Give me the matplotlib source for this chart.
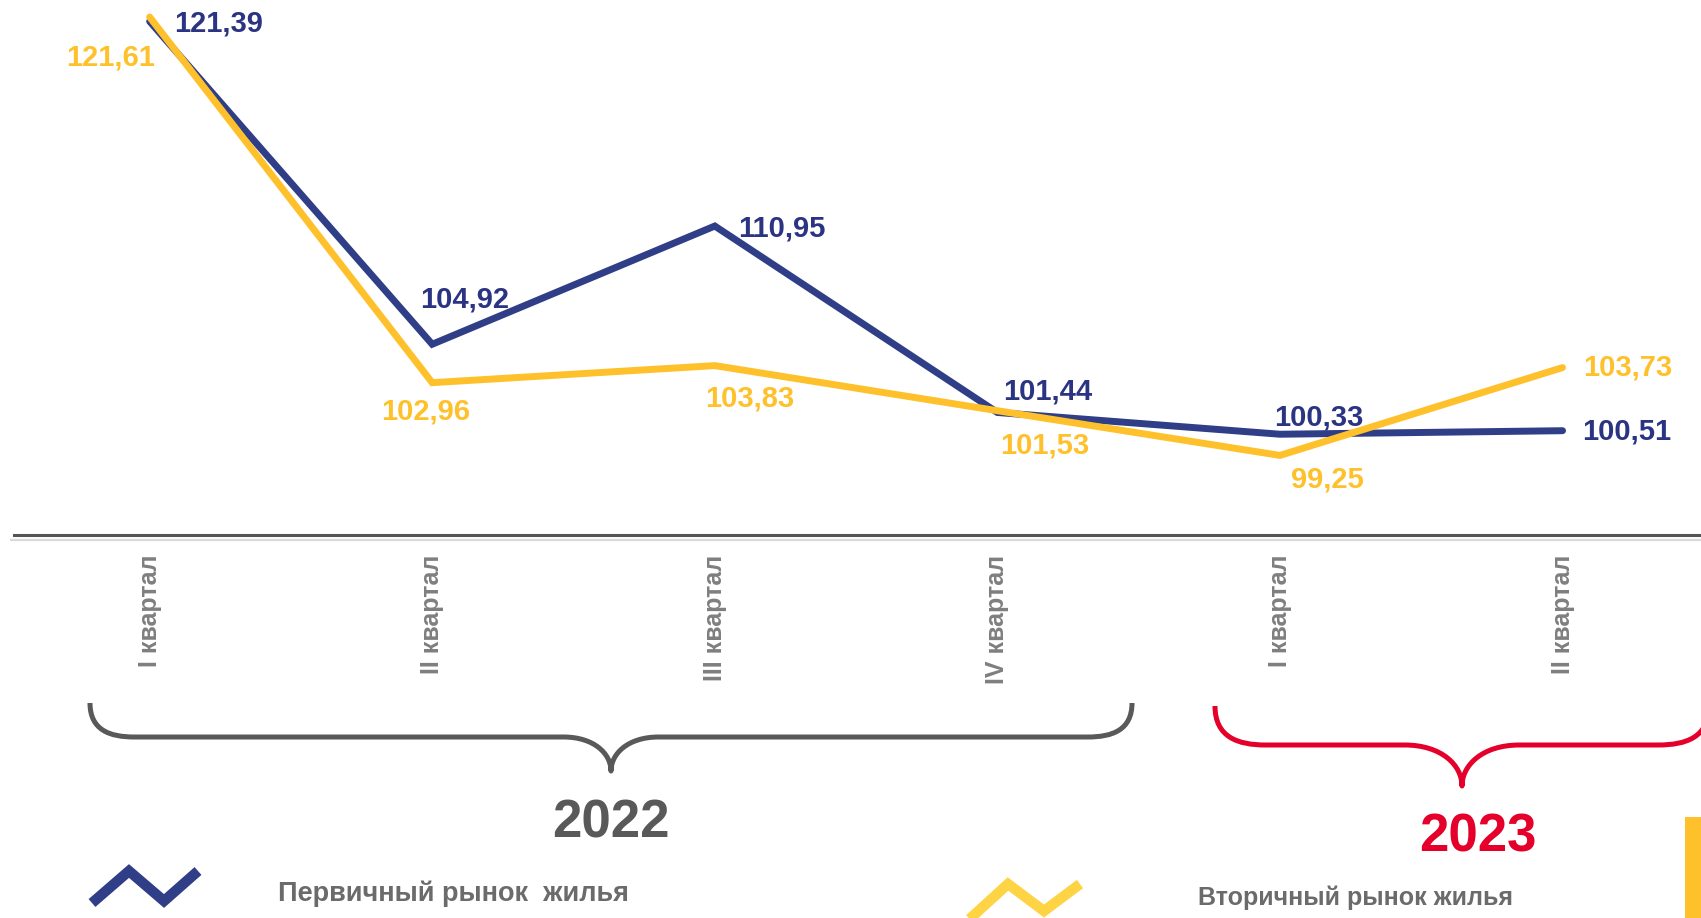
import matplotlib
matplotlib.use("Agg")
import matplotlib.pyplot as plt
from matplotlib.path import Path
from matplotlib.patches import PathPatch, Rectangle

plt.rcParams['font.family'] = ['Liberation Sans', 'DejaVu Sans']

# ---- data ----
quarters = ["I квартал", "II квартал", "III квартал", "IV квартал", "I квартал", "II квартал"]
primary = [121.39, 104.92, 110.95, 101.44, 100.33, 100.51]
secondary = [121.61, 102.96, 103.83, 101.53, 99.25, 103.73]
primary_labels = ["121,39", "104,92", "110,95", "101,44", "100,33", "100,51"]
secondary_labels = ["121,61", "102,96", "103,83", "101,53", "99,25", "103,73"]
years = ["2022", "2023"]
legend_names = ["Первичный рынок  жилья", "Вторичный рынок жилья"]

NAVY = "#2F3E86"
NAVY_TXT = "#2B3483"
YELLOW = "#FFC12B"
YELLOW_ICON = "#FFD444"
GRAY = "#595959"
RED = "#E4002B"

W, H = 1701, 918
fig = plt.figure(figsize=(W / 100, H / 100), dpi=100)

# main chart axes (pixel layout)
ax_left, ax_top, ax_bottom = 14, 0, 535
ax = fig.add_axes([ax_left / W, 1 - ax_bottom / H, (W - ax_left) / W, (ax_bottom - ax_top) / H])
ax.set_xlim(-0.48, 5.49)
ax.set_ylim(95.19, 122.48)
for s in ["top", "right", "left"]:
    ax.spines[s].set_visible(False)
ax.spines["bottom"].set_color("#555555")
ax.spines["bottom"].set_linewidth(2.2)
ax.set_yticks([])
x = list(range(len(quarters)))
ax.set_xticks(x)
ax.set_xticklabels(quarters, rotation=90, fontsize=18, fontweight="bold", color="#7F7F7F")
ax.tick_params(axis="x", length=0, pad=14)
ax.patch.set_alpha(0)

ax.plot(x, primary, color=NAVY, lw=5, solid_capstyle="round", solid_joinstyle="miter", zorder=3)
ax.plot(x, secondary, color=YELLOW, lw=5, solid_capstyle="round", solid_joinstyle="miter", zorder=4)

p_off = [(69, -2), (32, 45), (67, -2), (50, 21), (39, 17), (64, -1)]
s_off = [(-39, -40), (-7, -29), (35, -33), (47, -35), (47, -24), (65, 0)]
for xi, v, lab, off in zip(x, primary, primary_labels, p_off):
    ax.annotate(lab, (xi, v), xytext=off, textcoords="offset pixels", ha="center", va="center",
                fontsize=21, fontweight="bold", color=NAVY_TXT, zorder=5)
for xi, v, lab, off in zip(x, secondary, secondary_labels, s_off):
    ax.annotate(lab, (xi, v), xytext=off, textcoords="offset pixels", ha="center", va="center",
                fontsize=21, fontweight="bold", color=YELLOW, zorder=5)

# overlay axes in pixel coordinates for decorations
ov = fig.add_axes([0, 0, 1, 1], zorder=-1)
ov.set_xlim(0, W)
ov.set_ylim(H, 0)
ov.axis("off")
ov.patch.set_alpha(0)

# axis shadow line
ov.plot([10, W], [539.5, 539.5], color="#DADADA", lw=1.6, solid_capstyle="butt")


def brace(x0, x1, ytop, yh, ytip, color, lw):
    xc = (x0 + x1) / 2
    r1 = (yh - ytop) * 1.3
    r2 = (ytip - yh) * 1.4
    verts = [
        (x0, ytop),
        (x0, yh - (yh - ytop) * 0.2), (x0 + r1 * 0.45, yh), (x0 + r1, yh),
        (xc - r2, yh),
        (xc - r2 * 0.35, yh), (xc, ytip - (ytip - yh) * 0.5), (xc, ytip),
        (xc, ytip - (ytip - yh) * 0.5), (xc + r2 * 0.35, yh), (xc + r2, yh),
        (x1 - r1, yh),
        (x1 - r1 * 0.45, yh), (x1, yh - (yh - ytop) * 0.2), (x1, ytop),
    ]
    codes = [Path.MOVETO,
             Path.CURVE4, Path.CURVE4, Path.CURVE4,
             Path.LINETO,
             Path.CURVE4, Path.CURVE4, Path.CURVE4,
             Path.CURVE4, Path.CURVE4, Path.CURVE4,
             Path.LINETO,
             Path.CURVE4, Path.CURVE4, Path.CURVE4]
    ov.add_patch(PathPatch(Path(verts, codes), fill=False, edgecolor=color, lw=lw,
                           capstyle="butt", joinstyle="round"))


brace(90, 1132, 703, 737, 771, GRAY, 3.6)
brace(1215, 1709, 706, 745, 786, RED, 3.6)

ov.text(611, 824, years[0], ha="center", va="center", fontsize=38, fontweight="bold", color=GRAY)
ov.text(1478, 837, years[1], ha="center", va="center", fontsize=38, fontweight="bold", color=RED)

# legend icons
ov.plot([92, 129, 164, 198], [903, 871, 901, 871], color=NAVY, lw=7.5,
        solid_joinstyle="miter", solid_capstyle="butt")
ov.plot([963, 1008, 1044, 1080], [925, 884, 911, 884], color=YELLOW_ICON, lw=7.5,
        solid_joinstyle="miter", solid_capstyle="butt")
ov.text(278, 901, legend_names[0], ha="left", va="baseline", fontsize=19.5, fontweight="bold", color="#6B6B6B")
ov.text(1198, 905, legend_names[1], ha="left", va="baseline", fontsize=18, fontweight="bold", color="#6B6B6B")

# yellow bar at the right edge
ov.add_patch(Rectangle((1685, 817), 20, 110, color=YELLOW, lw=0))

fig.savefig("out.png", dpi=100)
